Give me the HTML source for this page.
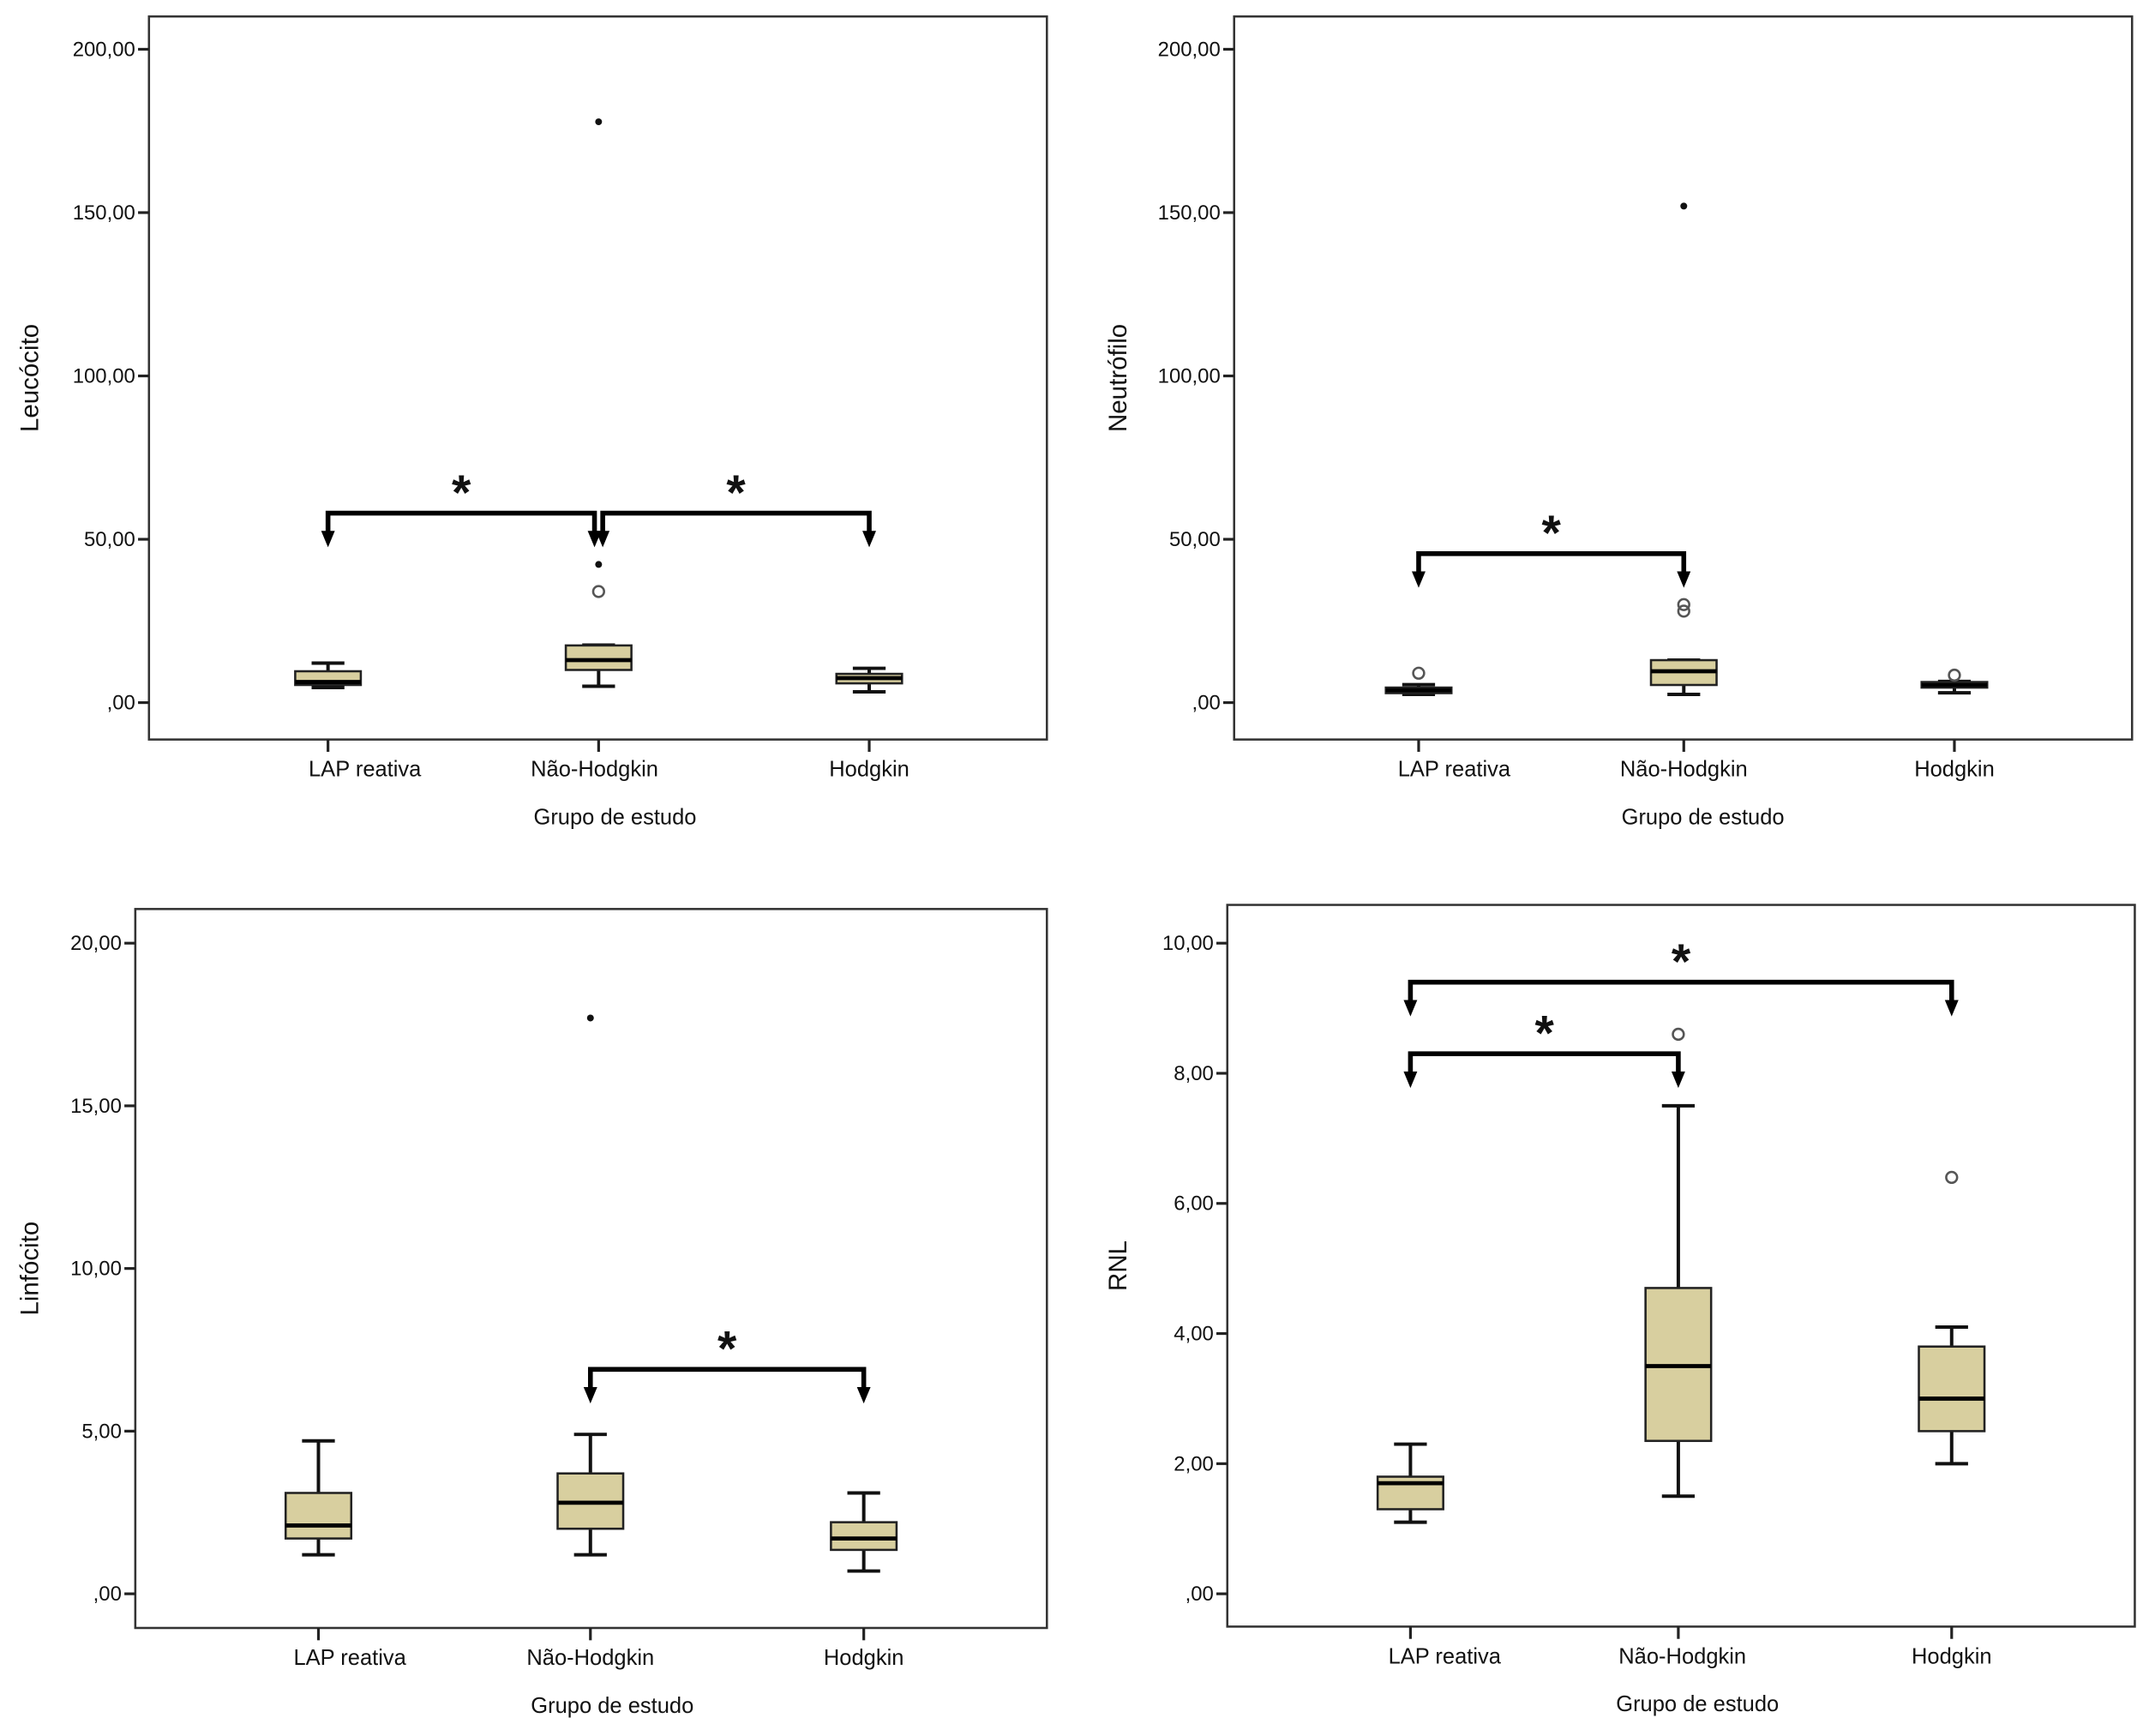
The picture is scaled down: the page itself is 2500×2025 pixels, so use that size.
<!DOCTYPE html>
<html><head><meta charset="utf-8"><style>
html,body{margin:0;padding:0;background:#fff;}
svg{display:block;}
text{font-family:"Liberation Sans",Arial,sans-serif;fill:#111;}
</style></head><body>
<svg id="fig" width="2500" height="2025" viewBox="0 0 1568 1270" xmlns="http://www.w3.org/2000/svg"></svg>
<script>
const categories = ["LAP reativa", "Não-Hodgkin", "Hodgkin"];

// Leucócito
const leucoTicks = [0, 50, 100, 150, 200];
const leucoTickLabels = [",00", "50,00", "100,00", "150,00", "200,00"];
const leucoWhiskerLow = [4.6, 5.0, 3.3];
const leucoQ1 = [5.4, 10.0, 5.9];
const leucoMedian = [6.3, 13.0, 7.5];
const leucoQ3 = [9.6, 17.5, 8.8];
const leucoWhiskerHigh = [12.1, 17.6, 10.5];
const leucoOutlierGroup = [1, 1, 1];
const leucoOutlierValue = [177.8, 42.3, 34];
const leucoOutlierType = ["star", "star", "circle"];
const leucoBracketFrom = [0, 1];
const leucoBracketTo = [1, 2];
const leucoBracketValue = [58, 58];

// Neutrófilo
const neutroTicks = [0, 50, 100, 150, 200];
const neutroTickLabels = [",00", "50,00", "100,00", "150,00", "200,00"];
const neutroWhiskerLow = [2.5, 2.5, 3.0];
const neutroQ1 = [2.9, 5.4, 4.6];
const neutroMedian = [3.8, 9.6, 5.4];
const neutroQ3 = [4.6, 13.0, 6.3];
const neutroWhiskerHigh = [5.5, 13.0, 6.5];
const neutroOutlierGroup = [0, 1, 1, 1, 2];
const neutroOutlierValue = [9, 28, 30, 152, 8.4];
const neutroOutlierType = ["circle", "circle", "circle", "star", "circle"];
const neutroBracketFrom = [0];
const neutroBracketTo = [1];
const neutroBracketValue = [45.6];

// Linfócito
const linfoTicks = [0, 5, 10, 15, 20];
const linfoTickLabels = [",00", "5,00", "10,00", "15,00", "20,00"];
const linfoWhiskerLow = [1.2, 1.2, 0.7];
const linfoQ1 = [1.7, 2.0, 1.35];
const linfoMedian = [2.1, 2.8, 1.7];
const linfoQ3 = [3.1, 3.7, 2.2];
const linfoWhiskerHigh = [4.7, 4.9, 3.1];
const linfoOutlierGroup = [1];
const linfoOutlierValue = [17.7];
const linfoOutlierType = ["star"];
const linfoBracketFrom = [1];
const linfoBracketTo = [2];
const linfoBracketValue = [6.9];

// RNL
const rnlTicks = [0, 2, 4, 6, 8, 10];
const rnlTickLabels = [",00", "2,00", "4,00", "6,00", "8,00", "10,00"];
const rnlWhiskerLow = [1.1, 1.5, 2.0];
const rnlQ1 = [1.3, 2.35, 2.5];
const rnlMedian = [1.7, 3.5, 3.0];
const rnlQ3 = [1.8, 4.7, 3.8];
const rnlWhiskerHigh = [2.3, 7.5, 4.1];
const rnlOutlierGroup = [1, 2];
const rnlOutlierValue = [8.6, 6.4];
const rnlOutlierType = ["circle", "circle"];
const rnlBracketFrom = [0, 0];
const rnlBracketTo = [2, 1];
const rnlBracketValue = [9.4, 8.3];

const NS = "http://www.w3.org/2000/svg";
const fig = document.getElementById("fig");
function mk(tag, attrs, parent) {
  const e = document.createElementNS(NS, tag);
  for (const k in attrs) e.setAttribute(k, attrs[k]);
  (parent || fig).appendChild(e);
  return e;
}

function drawPanel(p) {
  const g = mk("g", {});
  
  
  const tMax = p.ticks[p.ticks.length - 1];
  const y = v => p.y0 - v * (p.y0 - p.yTop) / tMax;
  const x = i => p.cx[i];
  const frame = mk("rect", {x: p.l, y: p.t, width: p.r - p.l, height: p.b - p.t, fill: "none", stroke: "#333", "stroke-width": 1.6}, g);
  
  
  p.ticks.forEach((tv, i) => {
    const tk = mk("line", {x1: p.l - 8, x2: p.l, y1: y(tv), y2: y(tv), stroke: "#222", "stroke-width": 2}, g);
    
    
    const tl = mk("text", {x: p.l - 10, y: y(tv) + 5, "text-anchor": "end", "font-size": 15}, g);
    tl.textContent = p.tickLabels[i];
    
    
  });
  const yt = mk("text", {x: 0, y: 0, "text-anchor": "middle", "font-size": 18.5, transform: `translate(${p.yTitleX},${(p.t + p.b) / 2}) rotate(-90)`}, g);
  yt.textContent = p.yTitle;
  
  
  categories.forEach((c, i) => {
    const tk = mk("line", {x1: x(i), x2: x(i), y1: p.b, y2: p.b + 9, stroke: "#222", "stroke-width": 2}, g);
    
    
    const tl = mk("text", {x: x(i) + p.labOff[i], y: p.b + 27, "text-anchor": "middle", "font-size": 16}, g);
    tl.textContent = c;
    
    
  });
  const xt = mk("text", {x: p.xTitleX, y: p.b + 62, "text-anchor": "middle", "font-size": 16}, g);
  xt.textContent = "Grupo de estudo";
  
  
  const bw = 48, cw = 24;
  categories.forEach((c, i) => {
    const bg = mk("g", {}, g);
    
    
    mk("line", {x1: x(i), x2: x(i), y1: y(p.wl[i]), y2: y(p.wh[i]), stroke: "#111", "stroke-width": 2.5}, bg);
    mk("line", {x1: x(i) - cw / 2, x2: x(i) + cw / 2, y1: y(p.wl[i]), y2: y(p.wl[i]), stroke: "#111", "stroke-width": 2.5}, bg);
    mk("line", {x1: x(i) - cw / 2, x2: x(i) + cw / 2, y1: y(p.wh[i]), y2: y(p.wh[i]), stroke: "#111", "stroke-width": 2.5}, bg);
    mk("rect", {x: x(i) - bw / 2, y: y(p.q3[i]), width: bw, height: Math.max(1, y(p.q1[i]) - y(p.q3[i])), fill: "#d8cf9f", stroke: "#222", "stroke-width": 1.6}, bg);
    mk("line", {x1: x(i) - bw / 2, x2: x(i) + bw / 2, y1: y(p.med[i]), y2: y(p.med[i]), stroke: "#000", "stroke-width": 3}, bg);
  });
  p.og.forEach((gi, k) => {
    let o;
    if (p.ot[k] === "star") o = mk("circle", {cx: x(gi), cy: y(p.ov[k]), r: 2.5, fill: "#111"}, g);
    else o = mk("circle", {cx: x(gi), cy: y(p.ov[k]), r: 4, fill: "none", stroke: "#555", "stroke-width": 1.6}, g);
    
    
  });
  p.bf.forEach((fi, k) => {
    const bg = mk("g", {}, g);
    
    
    const x1 = x(fi) + (p.bdx ? p.bdx[k][0] : 0), x2 = x(p.bt[k]) + (p.bdx ? p.bdx[k][1] : 0);
    const yb = y(p.bv[k]), yt2 = yb + 25;
    mk("path", {d: `M${x1},${yt2 - 10} L${x1},${yb} L${x2},${yb} L${x2},${yt2 - 10}`, fill: "none", stroke: "#000", "stroke-width": 3.5}, bg);
    [x1, x2].forEach(ax => mk("path", {d: `M${ax - 5},${yt2 - 12} L${ax + 5},${yt2 - 12} L${ax},${yt2} Z`, fill: "#000"}, bg));
    const s = mk("text", {x: (x1 + x2) / 2, y: yb - 3, "text-anchor": "middle", "font-size": 36, "font-weight": "bold"}, bg);
    s.textContent = "*";
  });
}

drawPanel({name: "leucocito", l: 109, r: 766, t: 12, b: 541, y0: 514, yTop: 36, cx: [240, 438, 636], labOff: [27, -3, 0], xTitleX: 450, yTitleX: 28, yTitle: "Leucócito",
  ticks: leucoTicks, tickLabels: leucoTickLabels, wl: leucoWhiskerLow, q1: leucoQ1, med: leucoMedian, q3: leucoQ3, wh: leucoWhiskerHigh,
  og: leucoOutlierGroup, ov: leucoOutlierValue, ot: leucoOutlierType, bf: leucoBracketFrom, bt: leucoBracketTo, bv: leucoBracketValue, bdx: [[0, -3], [3, 0]]});
drawPanel({name: "neutrofilo", l: 903, r: 1560, t: 12, b: 541, y0: 514, yTop: 36, cx: [1038, 1232, 1430], labOff: [26, 0, 0], xTitleX: 1246, yTitleX: 824, yTitle: "Neutrófilo",
  ticks: neutroTicks, tickLabels: neutroTickLabels, wl: neutroWhiskerLow, q1: neutroQ1, med: neutroMedian, q3: neutroQ3, wh: neutroWhiskerHigh,
  og: neutroOutlierGroup, ov: neutroOutlierValue, ot: neutroOutlierType, bf: neutroBracketFrom, bt: neutroBracketTo, bv: neutroBracketValue});
drawPanel({name: "linfocito", l: 99, r: 766, t: 665, b: 1191, y0: 1166, yTop: 690, cx: [233, 432, 632], labOff: [23, 0, 0], xTitleX: 448, yTitleX: 28, yTitle: "Linfócito",
  ticks: linfoTicks, tickLabels: linfoTickLabels, wl: linfoWhiskerLow, q1: linfoQ1, med: linfoMedian, q3: linfoQ3, wh: linfoWhiskerHigh,
  og: linfoOutlierGroup, ov: linfoOutlierValue, ot: linfoOutlierType, bf: linfoBracketFrom, bt: linfoBracketTo, bv: linfoBracketValue});
drawPanel({name: "rnl", l: 898, r: 1562, t: 662, b: 1190, y0: 1166, yTop: 690, cx: [1032, 1228, 1428], labOff: [25, 3, 0], xTitleX: 1242, yTitleX: 824, yTitle: "RNL",
  ticks: rnlTicks, tickLabels: rnlTickLabels, wl: rnlWhiskerLow, q1: rnlQ1, med: rnlMedian, q3: rnlQ3, wh: rnlWhiskerHigh,
  og: rnlOutlierGroup, ov: rnlOutlierValue, ot: rnlOutlierType, bf: rnlBracketFrom, bt: rnlBracketTo, bv: rnlBracketValue});
</script>
</body></html>
